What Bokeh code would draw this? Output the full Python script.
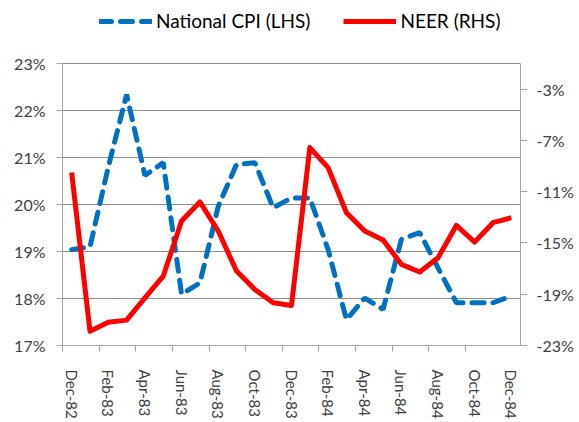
from bokeh.plotting import figure
from bokeh.models import (Range1d, LinearAxis, FixedTicker, PrintfTickFormatter,
                          Legend, LegendItem, ColumnDataSource)
from bokeh.embed import file_html
from bokeh.resources import INLINE

months = ["Dec-82", "Jan-83", "Feb-83", "Mar-83", "Apr-83", "May-83", "Jun-83",
          "Jul-83", "Aug-83", "Sep-83", "Oct-83", "Nov-83", "Dec-83", "Jan-84",
          "Feb-84", "Mar-84", "Apr-84", "May-84", "Jun-84", "Jul-84", "Aug-84",
          "Sep-84", "Oct-84", "Nov-84", "Dec-84"]
national_cpi = [19.04, 19.10, 20.80, 22.34, 20.62, 20.89, 18.09, 18.33, 19.96,
                20.85, 20.89, 19.93, 20.14, 20.14, 19.04, 17.55, 18.01, 17.77,
                19.26, 19.40, 18.65, 17.91, 17.91, 17.91, 18.05]
neer = [-9.51, -21.88, -21.18, -21.02, -19.28, -17.58, -13.29, -11.80, -14.07,
        -17.19, -18.63, -19.67, -19.88, -7.56, -9.12, -12.64, -14.07, -14.77,
        -16.67, -17.27, -16.15, -13.63, -14.93, -13.42, -13.03]
lhs_ticks = [17, 18, 19, 20, 21, 22, 23]
rhs_ticks = [-23, -19, -15, -11, -7, -3]
lhs_bounds = (17, 23)
rhs_bounds = (-23, -1)

FONT = "Lato"
GRID = "#8c8c8c"
AXIS = "#a6a6a6"
TXT = "#404040"

# plot area: 282px for the axes' span plus headroom for the legend
AXIS_PX = 282
HEAD_PX = 63
lhs_top = lhs_bounds[0] + (lhs_bounds[1] - lhs_bounds[0]) * (AXIS_PX + HEAD_PX) / AXIS_PX
rhs_top = rhs_bounds[0] + (rhs_bounds[1] - rhs_bounds[0]) * (AXIS_PX + HEAD_PX) / AXIS_PX

idx = list(range(len(months)))
src = ColumnDataSource(dict(x=idx, cpi=national_cpi, neer=neer))

p = figure(frame_width=458, frame_height=AXIS_PX + HEAD_PX, output_backend="svg",
           toolbar_location=None,
           x_range=Range1d(-0.5, len(months) - 0.5),
           y_range=Range1d(lhs_bounds[0], lhs_top),
           min_border_left=62, min_border_right=48, min_border_top=0,
           min_border_bottom=60)
p.extra_y_ranges = {"rhs": Range1d(rhs_bounds[0], rhs_top)}
p.outline_line_color = None
p.background_fill_color = "white"
p.border_fill_color = "white"

# left axis
ly = p.yaxis[0]
ly.bounds = lhs_bounds
ly.ticker = FixedTicker(ticks=lhs_ticks)
ly.formatter = PrintfTickFormatter(format="%d%%")
ly.minor_tick_line_color = None
ly.major_tick_out = 6
ly.major_tick_in = 0
ly.major_label_standoff = 11
ly.axis_line_color = AXIS
ly.major_tick_line_color = AXIS
ly.major_label_text_font = FONT
ly.major_label_text_font_size = "16px"
ly.major_label_text_color = TXT

# right axis
ry = LinearAxis(y_range_name="rhs", ticker=FixedTicker(ticks=rhs_ticks),
                formatter=PrintfTickFormatter(format="%d%%"), bounds=rhs_bounds)
ry.minor_tick_line_color = None
ry.major_tick_out = 7
ry.major_tick_in = 0
ry.major_label_standoff = 9
ry.axis_line_color = AXIS
ry.major_tick_line_color = AXIS
ry.major_label_text_font = FONT
ry.major_label_text_font_size = "16px"
ry.major_label_text_color = TXT
p.add_layout(ry, "right")

# bottom axis
bx = p.xaxis[0]
label_pos = idx[::2]
bx.ticker = FixedTicker(ticks=label_pos,
                        minor_ticks=[i - 0.5 for i in label_pos[:-1]])
bx.major_label_overrides = {i: months[i] for i in label_pos}
bx.major_tick_line_color = None
bx.major_tick_out = 0
bx.major_tick_in = 0
bx.minor_tick_out = 6
bx.minor_tick_in = 0
bx.minor_tick_line_color = AXIS
bx.axis_line_color = AXIS
bx.major_label_orientation = "vertical"
bx.major_label_standoff = 18
bx.major_label_text_font = FONT
bx.major_label_text_font_size = "15px"
bx.major_label_text_color = TXT

p.xgrid.grid_line_color = None
p.ygrid.ticker = FixedTicker(ticks=lhs_ticks[1:])
p.ygrid.grid_line_color = GRID

r_cpi = p.line("x", "cpi", source=src, line_color="#0070C0", line_width=5,
               line_dash="12 9", line_cap="round")
r_neer = p.line("x", "neer", source=src, y_range_name="rhs",
                line_color="#FF0000", line_width=5, line_join="round")

legend = Legend(items=[LegendItem(label="National CPI (LHS)", renderers=[r_cpi]),
                       LegendItem(label="NEER (RHS)", renderers=[r_neer])],
                orientation="horizontal", location=(37, 313),
                glyph_width=53, glyph_height=20, label_height=20,
                label_standoff=4, spacing=33, padding=0, margin=0,
                label_text_font=FONT, label_text_font_size="19px",
                label_text_color="#000000",
                background_fill_alpha=0, border_line_color=None)
p.add_layout(legend, "center")

open("out.html", "w").write(file_html(p, INLINE))
